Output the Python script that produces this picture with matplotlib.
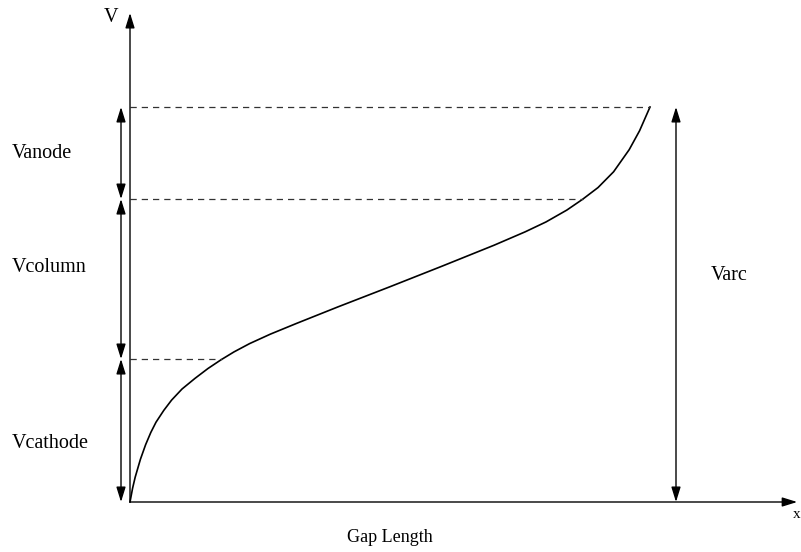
import matplotlib
matplotlib.use("Agg")
import matplotlib.pyplot as plt

# Arc voltage profile across the electrode gap (normalised units)
gap = [0, 0.5, 1, 2, 3, 4, 5, 6.5, 8, 10, 12.5, 15, 17.5, 20, 23, 27, 32,
       40, 50, 60, 70, 76, 80, 84, 87, 90, 93, 96, 98, 100]
volt = [0, 3.5, 6.3, 10.8, 14.5, 17.6, 20.2, 23.2, 25.8, 28.6, 31.3, 33.8,
        36.0, 38.0, 40.1, 42.5, 45.2, 49.4, 54.5, 59.7, 65.0, 68.4, 70.9,
        73.9, 76.6, 79.6, 83.6, 89.2, 94.0, 100]

# Region boundaries: (voltage level, gap position where it meets the curve)
levels = [36.2, 76.7, 100.0]
level_gap = [17.7, 87.1, 100.0]
region_labels = ["Vcathode", "Vcolumn", "Vanode"]

W, H = 801, 552
fig = plt.figure(figsize=(W / 100, H / 100), dpi=100)
ax = fig.add_axes([130 / W, 50 / H, 520 / W, 395 / H])
ax.set_xlim(0, 100)
ax.set_ylim(0, 100)
ax.axis("off")

serif = ["Liberation Serif", "DejaVu Serif"]


def arrow(x0, y0, x1, y1, both=False):
    style = "<|-|>" if both else "-|>"
    ax.annotate("", xy=(x1, y1), xytext=(x0, y0),
                arrowprops=dict(arrowstyle=f"{style},head_length=0.9,head_width=0.28",
                                lw=1.0, color="black", shrinkA=0, shrinkB=0),
                annotation_clip=False)


# Axes with arrow heads
arrow(0, 0, 0, 123.8)
arrow(0, 0, 128.3, 0)

# Voltage curve
ax.plot(gap, volt, color="black", lw=1.2, clip_on=False, solid_joinstyle="round")

# Dashed guide lines
for lv, gx in zip(levels, level_gap):
    ax.plot([0, gx], [lv, lv], color="#333333", lw=0.9,
            linestyle=(0, (5, 4)), clip_on=False)

# Region arrows on the left
bounds = [0.0] + levels
for lo, hi in zip(bounds[:-1], bounds[1:]):
    arrow(-1.73, lo, -1.73, hi, both=True)

# Total arc voltage arrow
arrow(105, 0, 105, levels[-1], both=True)

# Labels
label_y = [444, 268, 153]
for name, py in zip(region_labels, label_y):
    fig.text(12 / W, 1 - py / H, name, family=serif, fontsize=14.5, va="center", ha="left")
fig.text(711 / W, 1 - 275 / H, "Varc", family=serif, fontsize=14.5, va="center", ha="left")
fig.text(104 / W, 1 - 17 / H, "V", family=serif, fontsize=14.5, va="center", ha="left")
fig.text(390 / W, 1 - 538 / H, "Gap Length", family=serif, fontsize=13, va="center", ha="center")
fig.text(800 / W, 1 - 514 / H, "x", family=serif, fontsize=11, va="center", ha="right")

fig.savefig("out.png", dpi=100)
